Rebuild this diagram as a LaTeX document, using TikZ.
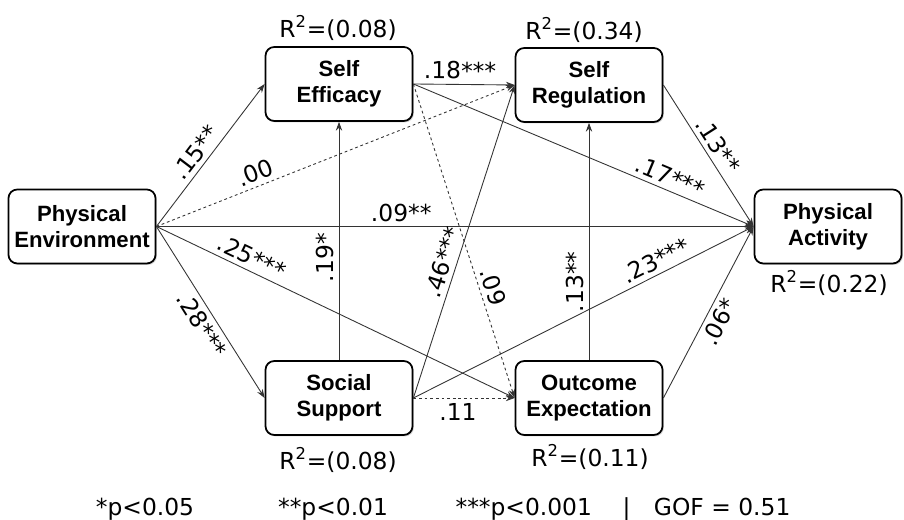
\documentclass[tikz,border=0pt]{standalone}
\usepackage{fontspec}
\setmainfont{DejaVu Sans}
\newfontfamily\boxfont{Liberation Sans}
\usetikzlibrary{arrows.meta,shadows}

\begin{document}
\begin{tikzpicture}[
  every node/.style={font=\fontsize{13.3}{16}\selectfont},
  construct/.style={draw, line width=1pt, rounded corners=5pt, align=center,
    minimum width=2.94cm, minimum height=1.48cm, fill=white,
    drop shadow={shadow xshift=.8pt,shadow yshift=-.8pt,opacity=.35},
    font=\boxfont\bfseries\fontsize{12.6}{15}\selectfont},
  link/.style={draw=black!80, line width=.5pt, -{Stealth[length=5pt,width=3.6pt]}},
  weak/.style={link, dash pattern=on 1.6pt off 1.6pt},
  coef/.style={sloped, inner sep=2.6pt}
]
  \useasboundingbox (0,0) rectangle (18.08,10.4);

  % constructs
  \node[construct] (env) at (1.64,5.87) {Physical\\Environment};
  \node[construct] (eff) at (6.78,8.72) {Self\\Efficacy};
  \node[construct] (reg) at (11.78,8.70) {Self\\Regulation};
  \node[construct] (act) at (16.56,5.87) {Physical\\Activity};
  \node[construct] (sup) at (6.78,2.44) {Social\\Support};
  \node[construct] (out) at (11.78,2.44) {Outcome\\Expectation};

  % explained variance
  \node (r2eff) at (6.76,9.84) {R\textsuperscript{2}=(0.08)};
  \node (r2reg) at (11.68,9.80) {R\textsuperscript{2}=(0.34)};
  \node (r2act) at (16.58,4.74) {R\textsuperscript{2}=(0.22)};
  \node (r2sup) at (6.76,1.20) {R\textsuperscript{2}=(0.08)};
  \node (r2out) at (11.80,1.26) {R\textsuperscript{2}=(0.11)};

  % paths from the environment
  \draw[link] (env.east) -- node[coef,above,pos=.46] {.15**} (eff.west);
  \draw[weak] (env.east) -- node[coef,above,pos=.29] {.00} (reg.west);
  \draw[link] (env.east) -- node[coef,above,pos=.41] {.09**} (act.west);
  \draw[link] (env.east) -- node[coef,above,pos=.25] {.25***} (out.west);
  \draw[link] (env.east) -- node[coef,below,pos=.53] {.28***} (sup.west);

  % paths from self efficacy
  \draw[link] (eff.east) -- node[coef,above,pos=.46] {.18***} (reg.west);
  \draw[link] (eff.east) -- node[coef,above,pos=.74] {.17***} (act.west);
  \draw[weak] (eff.east) -- node[coef,above,pos=.66] {.09} (out.west);
  \draw[link] (reg.east) -- node[coef,above,pos=.48] {.13**} (act.west);

  % paths from social support
  \draw[link] (sup.north) -- node[coef,above,pos=.43] {.19*} (eff.south);
  \draw[link] (sup.east) -- node[coef,above,pos=.42] {.46***} (reg.west);
  \draw[link] (sup.east) -- node[coef,above,pos=.73] {.23***} (act.west);
  \draw[weak] (sup.east) -- node[coef,below,pos=.44] {.11} (out.west);

  % paths from outcome expectation
  \draw[link] (out.north) -- node[coef,above,pos=.33] {.13**} (reg.south);
  \draw[link] (out.east) -- node[coef,below,pos=.48] {.06*} (act.west);

  % legend
  \node (p05) at (2.90,0.22) {*p<0.05};
  \node (p01) at (6.66,0.22) {**p<0.01};
  \node (p001) at (12.46,0.22) {***p<0.001 \quad|\quad GOF = 0.51};
\end{tikzpicture}
\end{document}
